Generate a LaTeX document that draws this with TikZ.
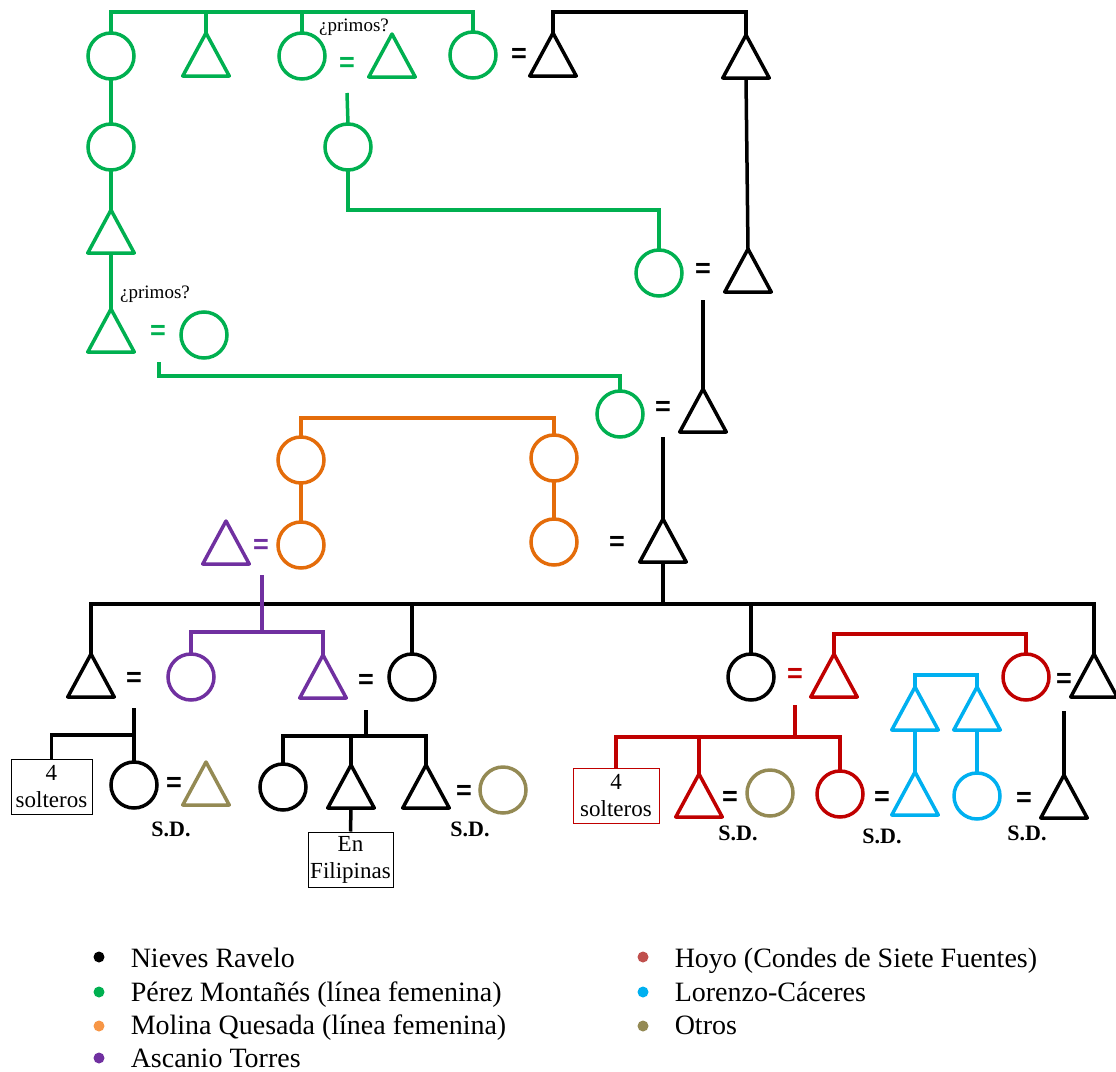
\documentclass[tikz,border=0pt]{standalone}
\usepackage{fontspec}
\setmainfont{Liberation Serif}
\setsansfont{Liberation Sans}
\usetikzlibrary{shapes.geometric}
\definecolor{gr}{HTML}{00B050}
\definecolor{orn}{HTML}{E46C0A}
\definecolor{pur}{HTML}{7030A0}
\definecolor{rd}{HTML}{C00000}
\definecolor{cy}{HTML}{00B0F0}
\definecolor{olv}{HTML}{948A54}
\definecolor{lorn}{HTML}{F79646}
\definecolor{lrd}{HTML}{C0504D}
\begin{document}
\begin{tikzpicture}[x=1pt,y=-1pt,line width=3.5pt,
  fem/.style={circle, draw, minimum size=46pt, inner sep=0pt, outer sep=0pt},
  mal/.style={isosceles triangle, shape border rotate=90, isosceles triangle stretches,
    draw, minimum width=46.5pt, minimum height=43pt, inner sep=0pt, outer sep=0pt, anchor=apex, line join=round},
  eq/.style={font=\sffamily\bfseries\fontsize{27}{27}\selectfont, inner sep=0pt, anchor=base, yshift=-9.6pt},
  sd/.style={font=\bfseries\fontsize{22}{22}\selectfont, inner sep=0pt},
  pq/.style={font=\fontsize{19}{19}\selectfont, inner sep=0pt, text=black},
  famtbox/.style={draw, line width=1pt, align=center, font=\fontsize{23}{27}\selectfont,
    minimum height=55pt, inner sep=1pt},
  legdot/.style={circle, fill, minimum size=11pt, inner sep=0pt},
  legtxt/.style={font=\fontsize{28}{28}\selectfont, anchor=base west, inner sep=0pt}
]
\useasboundingbox (0,0) rectangle (1116,1071);

% ---------- bar levels
\coordinate (ytop) at (0,12);
\coordinate (ygmid) at (0,210);
\coordinate (yglow) at (0,376);
\coordinate (yor) at (0,418);
\coordinate (ymain) at (0,604);
\coordinate (ypur) at (0,632);
\coordinate (yred) at (0,634);
\coordinate (ycy) at (0,675);
\coordinate (ys1) at (0,735);
\coordinate (ys2) at (0,736);
\coordinate (ys3) at (0,737);

% ---------- green
\node[fem,gr] (gA1) at (111,56) {};
\node[mal,gr] (gA2) at (206,33) {};
\node[fem,gr] (gA3) at (302,56) {};
\node[eq,gr] (e1) at (347,62) {=};
\node[mal,gr] (gA5) at (392,34) {};
\node[fem,gr] (gA4) at (473,55) {};
\node[fem,gr] (gA6) at (111,147) {};
\node[fem,gr] (gC2) at (348,147) {};
\node[mal,gr] (gA7) at (111,210) {};
\node[mal,gr] (gA8) at (111,309) {};
\node[eq,gr] (e2) at (158,330) {=};
\node[fem,gr] (gA9) at (204,335) {};
\node[fem,gr] (gC1) at (659,273) {};
\node[fem,gr] (gC3) at (620,414) {};
\node[pq] (q1) at (354,27) {¿primos?};
\node[pq] (q2) at (155,294) {¿primos?};

% ---------- black ancestors
\node[eq] (e3) at (519,53) {=};
\node[mal] (kB1) at (553,33) {};
\node[mal] (kB2) at (746,35) {};
\node[eq] (e4) at (703,268) {=};
\node[mal] (kB3) at (748,249) {};
\node[eq] (e5) at (663,406) {=};
\node[mal] (kB4) at (703,389) {};
\node[eq] (e6) at (617,541) {=};
\node[mal] (kB5) at (663,519) {};

% ---------- orange
\node[fem,orn] (oO1) at (301,460) {};
\node[fem,orn] (oO2) at (554,458) {};
\node[fem,orn] (oO3) at (301,545) {};
\node[fem,orn] (oO4) at (554,542) {};

% ---------- purple
\node[mal,pur] (pP1) at (226,521) {};
\node[eq,pur] (e7) at (261,544) {=};
\node[fem,pur] (pP2) at (191,677) {};
\node[mal,pur] (pP3) at (323,655) {};

% ---------- generation row
\node[mal] (kT1) at (91,654) {};
\node[eq] (e8) at (134,677) {=};
\node[eq] (e9) at (366,679) {=};
\node[fem] (kK1) at (412,677) {};
\node[fem] (kK6) at (751,677) {};
\node[eq,rd] (e10) at (795,673) {=};
\node[mal,rd] (rR1) at (834,654) {};
\node[fem,rd] (rR2) at (1026,677) {};
\node[eq] (e11) at (1064,678) {=};
\node[mal] (kK7) at (1094,654) {};

% ---------- lower row
\node[famtbox,minimum width=81pt] (bx1) at (51.5,786.5) {4\\solteros};
\node[fem] (kK2) at (134,785) {};
\node[eq] (e12) at (174,782) {=};
\node[mal,olv] (vO5) at (206,762) {};
\node[sd] (sd1) at (171,829) {S.D.};
\node[fem] (kK3) at (283,787) {};
\node[mal] (kK4) at (351,765) {};
\node[famtbox,minimum width=85pt] (bx3) at (350.5,859.5) {En\\Filipinas};
\node[mal] (kK5) at (426,765) {};
\node[eq] (e13) at (464,790) {=};
\node[fem,olv] (vO6) at (503,790) {};
\node[sd] (sd2) at (470,829) {S.D.};

\node[famtbox,draw=rd,minimum width=86pt] (bx2) at (616,796) {4\\solteros};
\node[mal,rd] (rR3) at (699,774) {};
\node[eq] (e14) at (730,796) {=};
\node[fem,olv] (vO7) at (770,793) {};
\node[sd] (sd3) at (738,833) {S.D.};
\node[fem,rd] (rR4) at (840,794) {};
\node[eq] (e15) at (882,796) {=};
\node[sd] (sd4) at (882,836) {S.D.};
\node[mal,cy] (cL1) at (915,687) {};
\node[mal,cy] (cL2) at (977,687) {};
\node[mal,cy] (cL3) at (915,772) {};
\node[fem,cy] (cL4) at (977,796) {};
\node[eq] (e16) at (1024,797) {=};
\node[mal] (kK8) at (1064,775) {};
\node[sd] (sd5) at (1027,833) {S.D.};

% ---------- free ends of descent lines (below '=' signs)
\coordinate (m1) at (347,93);
\coordinate (m2) at (159,362);
\coordinate (m3) at (703,300);
\coordinate (m4) at (663,437);
\coordinate (m5) at (134,708);
\coordinate (m6) at (366,710);
\coordinate (m7) at (1064,711);
\coordinate (m8) at (262,575);
\coordinate (m9) at (795,705);

% ---------- green connectors
\begin{scope}[draw=gr]
\draw (gA1.north) -- (gA1.north |- ytop) -- (gA4.north |- ytop) -- (gA4.north);
\draw (gA2.apex) -- (gA2.apex |- ytop);
\draw (gA3.north) -- (gA3.north |- ytop);
\draw (gA1.south) -- (gA6.north);
\draw (gA6.south) -- (gA7.apex);
\draw (gA7.lower side) -- (gA8.apex);
\draw (m1) -- (gC2.north);
\draw (gC2.south) -- (gC2.south |- ygmid) -- (gC1.north |- ygmid) -- (gC1.north);
\draw (m2) -- (m2 |- yglow) -- (gC3.north |- yglow) -- (gC3.north);
\end{scope}

% ---------- black ancestors connectors
\draw (kB1.apex) -- (kB1.apex |- ytop) -- (kB2.apex |- ytop) -- (kB2.apex);
\draw (kB2.lower side) -- (kB3.apex);
\draw (m3) -- (kB4.apex);
\draw (m4) -- (kB5.apex);
\draw (kB5.lower side) -- (kB5.lower side |- ymain);

% ---------- orange connectors
\begin{scope}[draw=orn]
\draw (oO1.north) -- (oO1.north |- yor) -- (oO2.north |- yor) -- (oO2.north);
\draw (oO1.south) -- (oO3.north);
\draw (oO2.south) -- (oO4.north);
\end{scope}

% ---------- main sibship
\draw (kT1.apex) -- (kT1.apex |- ymain) -- (kK7.apex |- ymain) -- (kK7.apex);
\draw (kK1.north) -- (kK1.north |- ymain);
\draw (kK6.north) -- (kK6.north |- ymain);

% ---------- purple connectors
\begin{scope}[draw=pur]
\draw (m8) -- (m8 |- ypur);
\draw (pP2.north) -- (pP2.north |- ypur) -- (pP3.apex |- ypur) -- (pP3.apex);
\end{scope}

% ---------- red connectors
\begin{scope}[draw=rd]
\draw (rR1.apex) -- (rR1.apex |- yred) -- (rR2.north |- yred) -- (rR2.north);
\draw (m9) -- (m9 |- ys3);
\draw (bx2.north) -- (bx2.north |- ys3) -- (rR4.north |- ys3) -- (rR4.north);
\draw (rR3.apex) -- (rR3.apex |- ys3);
\end{scope}

% ---------- cyan connectors
\begin{scope}[draw=cy]
\draw (cL1.apex) -- (cL1.apex |- ycy) -- (cL2.apex |- ycy) -- (cL2.apex);
\draw (cL1.lower side) -- (cL3.apex);
\draw (cL2.lower side) -- (cL4.north);
\end{scope}

% ---------- black lower connectors
\draw (m5) -- (kK2.north);
\draw (bx1.north) -- (bx1.north |- ys1) -- (m5 |- ys1);
\draw (m6) -- (m6 |- ys2);
\draw (kK3.north) -- (kK3.north |- ys2) -- (kK5.apex |- ys2) -- (kK5.apex);
\draw (kK4.apex) -- (kK4.apex |- ys2);
\draw (kK4.lower side) -- (bx3.north);
\draw (m7) -- (kK8.apex);

% ---------- legend
\node[legdot,black] (d1) at (99,957) {};
\node[legtxt] (t1) at (129,967) {Nieves Ravelo};
\node[legdot,gr] (d2) at (99,992) {};
\node[legtxt] (t2) at (129,1001) {Pérez Montañés (línea femenina)};
\node[legdot,lorn] (d3) at (99,1026) {};
\node[legtxt] (t3) at (129,1034) {Molina Quesada (línea femenina)};
\node[legdot,pur] (d4) at (99,1058) {};
\node[legtxt] (t4) at (129,1067) {Ascanio Torres};
\node[legdot,lrd] (d5) at (643,957) {};
\node[legtxt] (t5) at (673,967) {Hoyo (Condes de Siete Fuentes)};
\node[legdot,cy] (d6) at (643,992) {};
\node[legtxt] (t6) at (673,1001) {Lorenzo-Cáceres};
\node[legdot,olv] (d7) at (643,1026) {};
\node[legtxt] (t7) at (673,1034) {Otros};
\end{tikzpicture}
\end{document}
